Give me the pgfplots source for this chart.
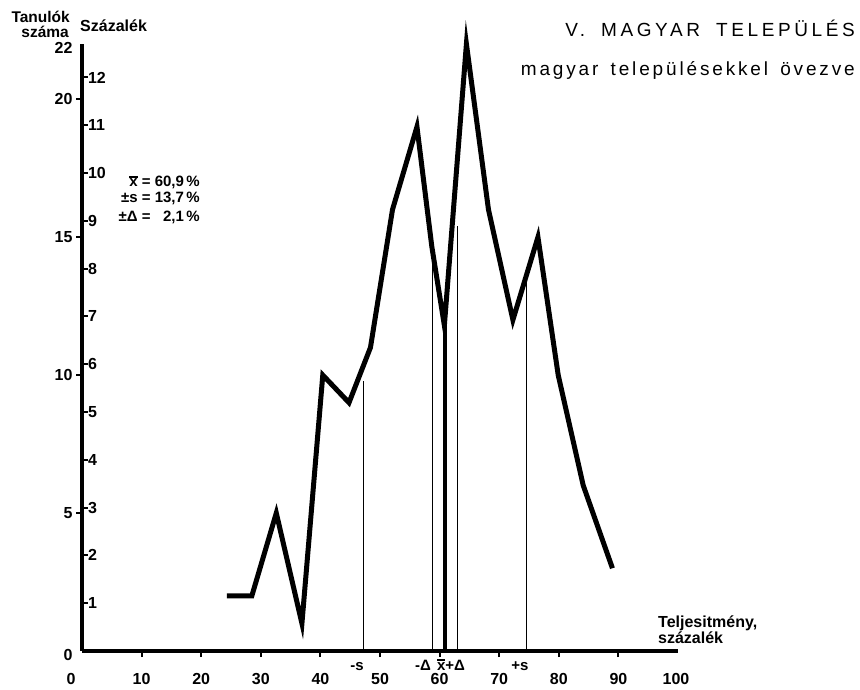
\documentclass[border=0pt]{standalone}
\usepackage{fontspec}
\setmainfont{Liberation Sans}
\newfontfamily\titlefont[LetterSpace=19,WordSpace=1.8]{Liberation Sans}
\newfontfamily\subtitlefont[LetterSpace=15,WordSpace=1.5]{Liberation Sans}
\usepackage{pgfplots}
\pgfplotsset{compat=1.18}

\newcommand\fs[1]{\fontsize{#1}{#1}\selectfont}
% x with a bar over it, set in the text font
\newcommand\xbar{\leavevmode\vbox{\hrule height 1.2pt\kern1.4pt\hbox{x}}}

% class midpoints (per cent) and number of pupils
\pgfplotstableread{
x     n
24.3  2
28.5  2
32.6  5
36.9  1
40.4  10
44.8  9
48.4  11
52.1  16
56.2  19
58.7  14.65
60.8  11.8
64.5  22
68.2  16
72.3  12
76.5  15
79.9  10
84.1  6
89.0  3
}\scores

\begin{document}
\begin{tikzpicture}[x=1pt,y=1pt]
\useasboundingbox (0,0) rectangle (860,689);

% number of pupils
\begin{axis}[
  at={(82pt,38pt)}, anchor=south west, scale only axis,
  width=596pt, height=607pt,
  xmin=0, xmax=100, ymin=0, ymax=22,
  axis x line*=bottom, axis y line*=left,
  axis line style={line width=4pt,-},
  xtick={10,20,...,90},
  extra x ticks={0,100},
  extra x tick labels={0\hspace*{22pt},100\hspace*{4pt}},
  ytick={5,10,15,20},
  extra y ticks={0,22},
  extra tick style={major tick style={draw=none}},
  extra y tick style={yticklabel style={yshift=-4pt}},
  tick align=outside,
  major tick length=6pt,
  tick style={line width=2pt,black},
  tick label style={font=\bfseries\fs{16}},
  /pgf/number format/assume math mode=true,
  xticklabel style={yshift=-12.5pt},
  clip=false,
]
\addplot[line width=5pt, black, line join=miter, miter limit=12] table[x=x,y=n] {\scores};
% mean, confidence limits and standard deviation
\addplot[line width=1.6pt] coordinates {(47.2,0) (47.2,9.8)};
\addplot[line width=1.6pt] coordinates {(58.8,0) (58.8,14.6)};
\addplot[line width=3.3pt] coordinates {(60.9,0) (60.9,11.9)};
\addplot[line width=1.6pt] coordinates {(63.0,0) (63.0,15.4)};
\addplot[line width=1.6pt] coordinates {(74.6,0) (74.6,13.4)};
\end{axis}

% percentage scale on the same vertical axis
\begin{axis}[
  at={(82pt,38pt)}, anchor=south west, scale only axis,
  width=596pt, height=607pt,
  xmin=0, xmax=100, ymin=0, ymax=12.7,
  hide x axis,
  axis y line*=left,
  y axis line style={draw=none},
  ytick={1,2,...,12},
  tick align=inside,
  major tick length=6pt,
  tick style={line width=2pt,black},
  tick label style={font=\bfseries\fs{16}},
  /pgf/number format/assume math mode=true,
  yticklabel style={anchor=west, xshift=2.5pt},
]
\end{axis}

\begin{scope}[every node/.style={inner sep=0pt}]
\node[anchor=base east, font=\bfseries\fs{15.5}] at (70,666) {Tanulók};
\node[anchor=base east, font=\bfseries\fs{15.5}] at (69,651) {száma};
\node[anchor=base west, font=\bfseries\fs{16}] at (80,657) {Százalék};

\node[anchor=base east, font=\bfseries\fs{15}] at (200,502) {\xbar\ = 60,9\,\%};
\node[anchor=base east, font=\bfseries\fs{15}] at (200,486) {±s = 13,7\,\%};
\node[anchor=base east, font=\bfseries\fs{15}] at (200,467) {±Δ = \phantom{1}2,1\,\%};

\node[anchor=base, font=\bfseries\fs{15}] at (357,19) {-s};
\node[anchor=base, font=\bfseries\fs{15}] at (423,19) {-Δ};
\node[anchor=base, font=\bfseries\fs{15}] at (451,19) {\xbar+Δ};
\node[anchor=base, font=\bfseries\fs{15}] at (520,19) {+s};

\node[anchor=base west, font=\bfseries\fs{16}] at (658,62) {Teljesitmény,};
\node[anchor=base west, font=\bfseries\fs{16}] at (658,46) {százalék};

\node[anchor=base east, font=\titlefont\fs{19}] at (855,652) {V. MAGYAR TELEPÜLÉS};
\node[anchor=base east, font=\subtitlefont\fs{19}] at (855,613) {magyar településekkel övezve};
\end{scope}
\end{tikzpicture}
\end{document}
